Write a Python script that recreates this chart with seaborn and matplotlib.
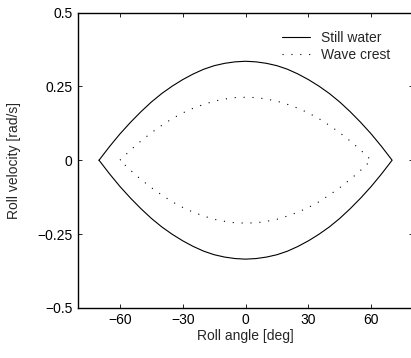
import numpy as np
import pandas as pd
import matplotlib
matplotlib.use("Agg")
import matplotlib.pyplot as plt
import seaborn as sns

# Roll angle grid (deg) for the upper half of each boundary
angle_still = [-70, -65, -60, -55, -50, -45, -40, -35, -30, -25, -20, -15, -10, -5,
               0, 5, 10, 15, 20, 25, 30, 35, 40, 45, 50, 55, 60, 65, 70]
vel_still = [0.0, 0.046, 0.089, 0.128, 0.164, 0.197, 0.226, 0.251, 0.273, 0.292, 0.308,
             0.320, 0.328, 0.333, 0.335, 0.333, 0.328, 0.320, 0.308, 0.292, 0.273,
             0.251, 0.226, 0.197, 0.164, 0.128, 0.089, 0.046, 0.0]

angle_crest = [-60, -55, -50, -45, -40, -35, -30, -25, -20, -15, -10, -5,
               0, 5, 10, 15, 20, 25, 30, 35, 40, 45, 50, 55, 60]
vel_crest = [0.0, 0.034, 0.065, 0.093, 0.118, 0.141, 0.160, 0.176, 0.189, 0.200, 0.207,
             0.212, 0.213, 0.212, 0.207, 0.200, 0.189, 0.176, 0.160, 0.141, 0.118,
             0.093, 0.065, 0.034, 0.0]

labels = ["Still water", "Wave crest"]
xticks = [-60, -30, 0, 30, 60]
yticks = [-0.5, -0.25, 0, 0.25, 0.5]
yticklabels = ["\u22120.5", "\u22120.25", "0", "0.25", "0.5"]
xticklabels = ["\u221260", "\u221230", "0", "30", "60"]


def closed_loop(angles, vels, name):
    # upper branch left->right, then lower branch right->left
    a = list(angles) + list(angles[::-1])
    v = list(vels) + [-x for x in vels[::-1]]
    return pd.DataFrame({"angle": a, "velocity": v, "case": name,
                         "order": range(len(a))})


df = pd.concat([closed_loop(angle_still, vel_still, labels[0]),
                closed_loop(angle_crest, vel_crest, labels[1])],
               ignore_index=True)

sns.set_style("ticks")
plt.rcParams["font.family"] = ["Liberation Sans", "DejaVu Sans"]
plt.rcParams["font.size"] = 10

fig = plt.figure(figsize=(4.11, 3.58), dpi=100)
ax = fig.add_axes([0.19, 0.14, 0.815, 0.825])

sns.lineplot(data=df, x="angle", y="velocity", style="case", units="case",
             estimator=None, sort=False, color="black", linewidth=0.8,
             dashes={labels[0]: "", labels[1]: (1, 7)}, ax=ax, legend=True)

ax.set_xlim(-80, 80)
ax.set_ylim(-0.5, 0.5)
ax.set_xticks(xticks)
ax.set_xticklabels(xticklabels)
ax.set_yticks(yticks)
ax.set_yticklabels(yticklabels)
ax.set_xlabel("Roll angle [deg]", fontsize=10, labelpad=1)
ax.set_ylabel("Roll velocity [rad/s]", fontsize=10, labelpad=12)
ax.tick_params(direction="in", length=3, width=0.6, top=True, right=True,
               labelsize=10, colors="black", pad=4)
for s in ax.spines.values():
    s.set_linewidth(1.0)
    s.set_color("black")
ax.spines["right"].set_visible(False)

leg = ax.legend(loc="upper right", bbox_to_anchor=(0.97, 0.98), frameon=False,
                handlelength=2.0, handletextpad=0.8, labelspacing=0.2,
                fontsize=10)

fig.savefig("out.png", dpi=100)
